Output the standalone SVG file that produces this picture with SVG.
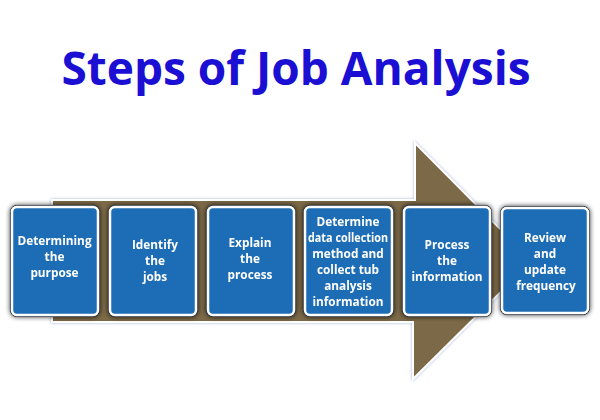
<svg xmlns="http://www.w3.org/2000/svg" width="600" height="420" viewBox="0 0 600 420">
<defs>
<filter id="glow" x="-10%" y="-10%" width="120%" height="120%">
<feGaussianBlur in="SourceAlpha" stdDeviation="2"/>
<feFlood flood-color="#9fb2d6"/>
<feComposite operator="in" in2="SourceAlpha"/>
<feGaussianBlur stdDeviation="1.5"/>
<feMerge><feMergeNode/><feMergeNode in="SourceGraphic"/></feMerge>
</filter>
<filter id="shadow" x="-20%" y="-20%" width="140%" height="140%">
<feGaussianBlur in="SourceAlpha" stdDeviation="2.5"/>
<feComponentTransfer><feFuncA type="linear" slope="0.8"/></feComponentTransfer>
<feMerge><feMergeNode/><feMergeNode in="SourceGraphic"/></feMerge>
</filter>
<style>
.title{font-family:"Open Sans","Noto Sans",sans-serif;font-weight:bold;font-size:46px;fill:#1a0fd2}
.box{fill:#1f6db5;stroke:#ffffff;stroke-width:2.5}
.edge{fill:none;stroke:#2a3340;stroke-width:1}
.lbl{font-family:"Open Sans","Noto Sans",sans-serif;font-weight:bold;font-size:11.8px;fill:#ffffff;text-anchor:middle}
.arrow{fill:#7b6946;stroke:#ffffff;stroke-width:2;stroke-linejoin:miter}
</style>
</defs>
<rect width="600" height="420" fill="#ffffff"/>
<text class="title" x="296" y="85" text-anchor="middle">Steps of Job Analysis</text>
<g id="connectors">
<path class="arrow" filter="url(#glow)" d="M52,200 H415 V143 L532,261 L413,379 V322 H52 Z"/>
</g>
<g id="n1" filter="url(#shadow)">
<rect class="edge" x="10.5" y="205.5" width="89" height="111" rx="6"/>
<rect class="box" x="12" y="207" width="86" height="108" rx="5"/>
<text class="lbl"><tspan x="54.5" y="245">Determining</tspan><tspan x="54.5" y="261">the</tspan><tspan x="54.5" y="277">purpose</tspan></text>
</g>
<g id="n2" filter="url(#shadow)">
<rect class="edge" x="108.5" y="205.5" width="89" height="111" rx="6"/>
<rect class="box" x="110" y="207" width="86" height="108" rx="5"/>
<text class="lbl"><tspan x="155" y="249">Identify</tspan><tspan x="155" y="265">the</tspan><tspan x="155" y="281">jobs</tspan></text>
</g>
<g id="n3" filter="url(#shadow)">
<rect class="edge" x="206.5" y="205.5" width="89" height="111" rx="6"/>
<rect class="box" x="208" y="207" width="86" height="108" rx="5"/>
<text class="lbl"><tspan x="250" y="247">Explain</tspan><tspan x="250" y="263">the</tspan><tspan x="250" y="279">process</tspan></text>
</g>
<g id="n4" filter="url(#shadow)">
<rect class="edge" x="303.5" y="205.5" width="90" height="111" rx="6"/>
<rect class="box" x="305" y="207" width="87" height="108" rx="5"/>
<text class="lbl" x="348" y="226">Determine</text>
<text class="lbl" x="348" y="242" textLength="80" lengthAdjust="spacingAndGlyphs">data collection</text>
<text class="lbl" x="348" y="258">method and</text>
<text class="lbl" x="348" y="274">collect tub</text>
<text class="lbl" x="348" y="290">analysis</text>
<text class="lbl" x="348" y="306">information</text>
</g>
<g id="n5" filter="url(#shadow)">
<rect class="edge" x="402.5" y="205.5" width="89" height="111" rx="6"/>
<rect class="box" x="404" y="207" width="86" height="108" rx="5"/>
<text class="lbl"><tspan x="447" y="249">Process</tspan><tspan x="447" y="265">the</tspan><tspan x="447" y="281">information</tspan></text>
</g>
<g id="n6" filter="url(#shadow)">
<rect class="edge" x="500.5" y="206.5" width="89" height="108" rx="6"/>
<rect class="box" x="502" y="208" width="86" height="105" rx="5"/>
<text class="lbl"><tspan x="545" y="242">Review</tspan><tspan x="545" y="258">and</tspan><tspan x="545" y="274">update</tspan><tspan x="546" y="290">frequency</tspan></text>
</g>
</svg>
